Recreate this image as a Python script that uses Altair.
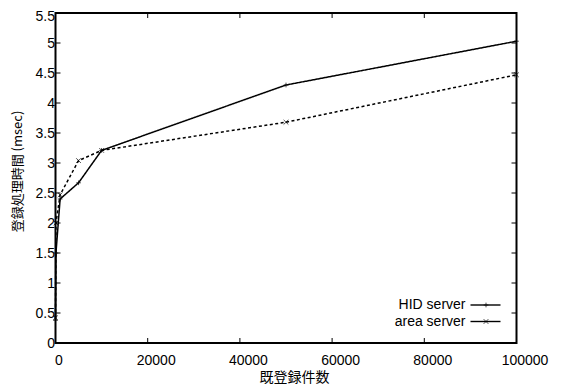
import altair as alt
import pandas as pd

# ---- data ----
records = [0, 100, 1000, 5000, 10000, 50000, 100000]
hid_server = [0.38, 1.5, 2.40, 2.67, 3.21, 4.30, 5.03]
area_server = [0.42, 2.0, 2.47, 3.04, 3.21, 3.68, 4.47]
series_names = ["HID server", "area server"]
x_ticks = [0, 20000, 40000, 60000, 80000, 100000]
y_ticks = [0, 0.5, 1, 1.5, 2, 2.5, 3, 3.5, 4, 4.5, 5, 5.5]

x_title = "既登録件数"
y_title = "登録処理時間 (msec)"

rows = []
for name, vals in zip(series_names, [hid_server, area_server]):
    for x, v in zip(records, vals):
        rows.append({"records": x, "time": v, "series": name})
df = pd.DataFrame(rows)
xt = pd.DataFrame({"records": x_ticks})
yt = pd.DataFrame({"time": y_ticks})

W, H = 461, 330
PLUS = "M-1,0L1,0M0,-1L0,1"
CROSS = "M-1,-1L1,1M-1,1L1,-1"

xscale = alt.Scale(domain=[0, 100000], nice=False, zero=True)
yscale = alt.Scale(domain=[0, 5.5], nice=False)

X_AXIS = alt.Axis(values=x_ticks, format="d", title=x_title,
                  titleX=238.5, titleY=34, titleBaseline="middle",
                  titleFont="Noto Sans CJK JP", titleFontSize=14,
                  titleFontWeight="normal", labelPadding=10,
                  labelFlush=False, labelOverlap=False,
                  labelOffset={"condition": {"test": "datum.value == 0", "value": 3},
                               "value": 8})
Y_AXIS = alt.Axis(values=y_ticks, format="~g", title=y_title,
                  titleX=-38.5, titleY=158, titleAngle=-90,
                  titleAlign="center", titleBaseline="middle",
                  titleFont="Noto Sans CJK JP", titleFontSize=13,
                  titleFontWeight="normal", labelPadding=1,
                  labelOverlap=False, labelFlush=False,
                  labelOffset={"condition": {"test": "datum.value == 5.5", "value": 3},
                               "value": 0})


def X():
    return alt.X("records:Q", scale=xscale, axis=X_AXIS, title=x_title)


def Y():
    return alt.Y("time:Q", scale=yscale, axis=Y_AXIS, title=y_title)


base = alt.Chart(df)

lines = base.mark_line(color="black", strokeWidth=1.5).encode(
    x=X(), y=Y(),
    strokeDash=alt.StrokeDash("series:N",
                              scale=alt.Scale(domain=series_names, range=[[1, 0], [3, 2.5]]),
                              legend=None),
    detail="series:N",
)

points = base.mark_point(color="black", filled=False, strokeWidth=1, size=22).encode(
    x=X(), y=Y(),
    shape=alt.Shape("series:N", scale=alt.Scale(domain=series_names, range=[PLUS, CROSS]),
                    legend=None),
)

# inward mirror ticks
tick_style = dict(color="black", strokeWidth=1)
yl = alt.Chart(yt).mark_rule(**tick_style).encode(y=Y(), x=alt.value(0), x2=alt.value(5))
yr = alt.Chart(yt).mark_rule(**tick_style).encode(y=Y(), x=alt.value(W - 5), x2=alt.value(W))
xb = alt.Chart(xt).mark_rule(**tick_style).encode(x=X(), y=alt.value(H - 5), y2=alt.value(H))
xtp = alt.Chart(xt).mark_rule(**tick_style).encode(x=X(), y=alt.value(0), y2=alt.value(5))

# legend (gnuplot style: label left, sample right)
leg_df = pd.DataFrame({"series": series_names})
leg_layers = []
for i, name in enumerate(series_names):
    d = leg_df[leg_df.series == name]
    ly = 292 + i * 16.5
    leg_layers.append(alt.Chart(d).mark_text(align="right", baseline="middle", fontSize=14,
                                             font="Liberation Sans", color="black").encode(
        text="series:N", x=alt.value(410), y=alt.value(ly)))
    leg_layers.append(alt.Chart(d).mark_rule(color="black", strokeWidth=1.4).encode(
        x=alt.value(415), x2=alt.value(445), y=alt.value(ly)))
    leg_layers.append(alt.Chart(d).mark_point(color="black", filled=False, strokeWidth=1, size=22,
                                              shape=[PLUS, CROSS][i]).encode(
        x=alt.value(430.5), y=alt.value(ly)))

chart = alt.layer(lines, points, yl, yr, xb, xtp, *leg_layers).properties(
    width=W, height=H,
    autosize=alt.AutoSizeParams(type="none"),
    padding={"left": 47.5, "top": 5, "right": 37.5, "bottom": 41},
    background="white",
).configure_view(
    stroke="black", strokeWidth=2
).configure_axis(
    grid=False, domain=False, ticks=False,
    labelFont="Liberation Sans", labelFontSize=14, labelColor="black",
    titleColor="black",
)

chart.save("out.html", embed_options={"renderer": "svg", "actions": False})
